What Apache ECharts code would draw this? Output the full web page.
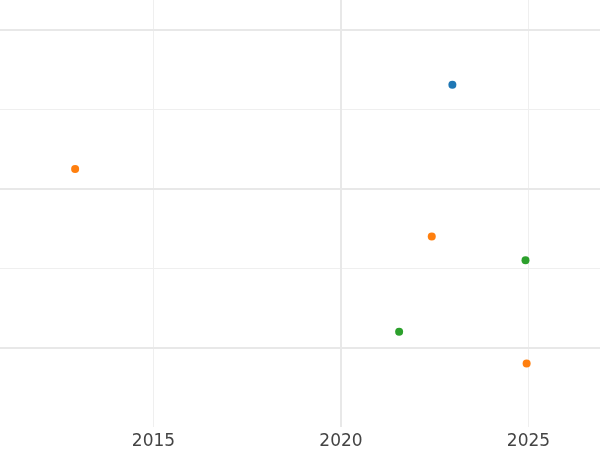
<!DOCTYPE html>
<html>
<head>
<meta charset="utf-8">
<script src="https://cdn.jsdelivr.net/npm/echarts@6/dist/echarts.min.js"></script>
<style>
  html, body { margin: 0; padding: 0; background: #fff; }
  #chart { width: 600px; height: 450px; }
</style>
</head>
<body>
<div id="chart"></div>
<script>
// values (x = year, y = unlabeled units)
const bluePoints = [[2022.97, 3.31]];
const orangePoints = [[2012.91, 2.25], [2022.42, 1.40], [2024.95, -0.20]];
const greenPoints = [[2024.92, 1.10], [2021.55, 0.20]];

const xTicks = [2010, 2015, 2020, 2025, 2030];
const majorX = [2020];
const majorY = [0, 2, 4];

const chart = echarts.init(document.getElementById("chart"));

const thinLine = { color: "#efefef", width: 1 };
const thickLine = { color: "#e8e8e8", width: 2, type: "solid" };

const pointSeries = (data, color) => ({
  type: "scatter",
  data: data,
  symbolSize: 8,
  itemStyle: { color: color, opacity: 1 },
  silent: true
});

chart.setOption({
  animation: false,
  // axis range is wider than the canvas so ticks stay on round years
  grid: {
    left: -34,
    width: 750,
    top: -49.5,
    bottom: 23,
    outerBoundsMode: "none",
    containLabel: false
  },
  xAxis: {
    type: "value",
    min: xTicks[0],
    max: xTicks[xTicks.length - 1],
    interval: 5,
    axisLine: { show: false },
    axisTick: { show: false },
    axisLabel: {
      color: "#444",
      fontSize: 17,
      fontFamily: "DejaVu Sans",
      margin: 6,
      showMinLabel: false,
      showMaxLabel: false,
      formatter: v => String(v)
    },
    splitLine: { show: true, lineStyle: thinLine }
  },
  yAxis: {
    type: "value",
    min: -1,
    max: 5,
    interval: 1,
    axisLine: { show: false },
    axisTick: { show: false },
    axisLabel: { show: false },
    splitLine: { show: true, showMinLine: false, lineStyle: thinLine }
  },
  series: [
    Object.assign(pointSeries(bluePoints, "#1f77b4"), {
      markLine: {
        silent: true,
        symbol: "none",
        label: { show: false },
        lineStyle: thickLine,
        data: majorX.map(v => ({ xAxis: v })).concat(majorY.map(v => ({ yAxis: v })))
      }
    }),
    pointSeries(orangePoints, "#ff7f0e"),
    pointSeries(greenPoints, "#2ca02c")
  ]
});
</script>
</body>
</html>
